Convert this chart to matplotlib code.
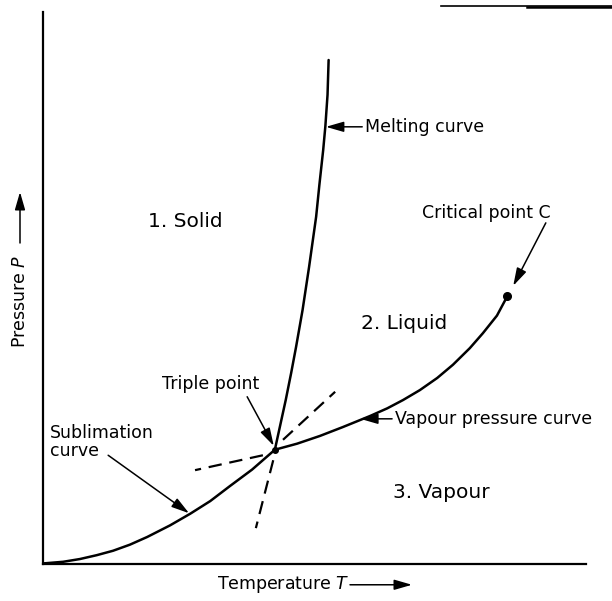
import numpy as np
import matplotlib
matplotlib.use("Agg")
import matplotlib.pyplot as plt
from matplotlib.lines import Line2D
from matplotlib.patches import FancyArrowPatch

# curves, T and P in arbitrary units (0..100)
subl_T = [0.0, 3.7, 6.8, 9.9, 12.9, 16.0, 19.2, 23.4, 27.1, 30.8, 34.4, 38.5, 42.7]
subl_P = [0.1, 0.4, 0.9, 1.6, 2.4, 3.5, 4.9, 7.0, 9.1, 11.4, 14.1, 17.1, 20.7]

vap_T = [42.7, 46.8, 51.0, 55.2, 60.2, 63.4, 66.3, 69.4, 72.6, 75.5, 78.6, 81.0, 83.6, 85.5]
vap_P = [20.7, 21.8, 23.2, 24.8, 26.8, 28.2, 29.7, 31.5, 33.7, 36.1, 39.1, 41.8, 45.0, 48.5]

melt_T = [42.7, 43.7, 44.7, 45.7, 46.6, 47.8, 49.0, 49.7, 50.3, 50.9, 51.6, 52.0, 52.4, 52.6]
melt_P = [20.7, 25.2, 29.7, 34.6, 39.3, 46.0, 53.8, 58.7, 62.9, 68.7, 75.0, 79.3, 85.0, 91.3]

# metastable extensions (dashed)
melt_ext_T = [42.4, 39.2]
melt_ext_P = [18.8, 6.5]
subl_ext_T = [44.2, 53.8]
subl_ext_P = [22.5, 31.2]
vap_ext_T = [40.5, 28.0]
vap_ext_P = [19.7, 17.0]

triple = (42.7, 20.7)
critical = (85.5, 48.5)

fig = plt.figure(figsize=(6.12, 6.01), dpi=100)
ax = fig.add_axes([43/612, 37/601, 543/612, 552/601])
ax.set_xlim(0, 100)
ax.set_ylim(0, 100)

lw = 1.8
for tt, pp in [(subl_T, subl_P), (vap_T, vap_P), (melt_T, melt_P)]:
    ax.plot(tt, pp, "k-", lw=lw, solid_capstyle="round", solid_joinstyle="round")
for tt, pp in [(melt_ext_T, melt_ext_P), (subl_ext_T, subl_ext_P), (vap_ext_T, vap_ext_P)]:
    ax.plot(tt, pp, "k-", lw=1.6, dashes=(6, 3.5))
ax.plot(*triple, "ko", ms=4)
ax.plot(*critical, "ko", ms=5.5)

for s in ["top", "right"]:
    ax.spines[s].set_visible(False)
for s in ["left", "bottom"]:
    ax.spines[s].set_linewidth(1.6)
ax.set_xticks([])
ax.set_yticks([])

# region labels
ax.text(26.3, 62.0, "1. Solid", fontsize=14.5, ha="center", va="center")
ax.text(66.5, 43.5, "2. Liquid", fontsize=14.5, ha="center", va="center")
ax.text(73.3, 12.9, "3. Vapour", fontsize=14.5, ha="center", va="center")

arr = dict(arrowstyle="-|>,head_length=0.9,head_width=0.26", color="k", lw=1.1,
           shrinkA=0, shrinkB=0, mutation_scale=12)
fs = 12.5
ax.annotate("Melting curve", xy=(52.1, 79.2), xytext=(59.3, 79.2),
            fontsize=fs, ha="left", va="center", arrowprops=arr)
ax.annotate("Vapour pressure curve", xy=(58.4, 26.3), xytext=(64.8, 26.3),
            fontsize=fs, ha="left", va="center", arrowprops=arr)
ax.text(81.6, 63.6, "Critical point C", fontsize=fs, ha="center", va="center")
ax.annotate("", xy=(86.6, 50.4), xytext=(92.6, 61.8), arrowprops=arr)
ax.text(30.9, 32.6, "Triple point", fontsize=fs, ha="center", va="center")
ax.annotate("", xy=(42.5, 21.4), xytext=(37.6, 30.3), arrowprops=arr)
ax.text(1.3, 22.1, "Sublimation\ncurve", fontsize=fs, ha="left", va="center",
        linespacing=1.05)
ax.annotate("", xy=(26.9, 9.2), xytext=(12.0, 19.7), arrowprops=arr)

# axis labels with arrows
fig.text(283/612, 0.027, "Temperature $T$", fontsize=12.5, ha="center", va="center")
fig.patches.append(FancyArrowPatch((350/612, 0.027), (412/612, 0.027),
                                   transform=fig.transFigure, **arr))
fig.text(20/612, 0.499, "Pressure $P$", fontsize=12.5, rotation=90,
         ha="center", va="center")
fig.patches.append(FancyArrowPatch((20/612, (601-243)/601), (20/612, (601-192)/601),
                                   transform=fig.transFigure, **arr))

# scan edge line at top right
fig.add_artist(Line2D([441/612, 1.0], [595/601, 595/601], color="k", lw=1.2))
fig.add_artist(Line2D([527/612, 1.0], [594.5/601, 594.5/601], color="k", lw=1.8))

fig.savefig("out.png", dpi=100)
